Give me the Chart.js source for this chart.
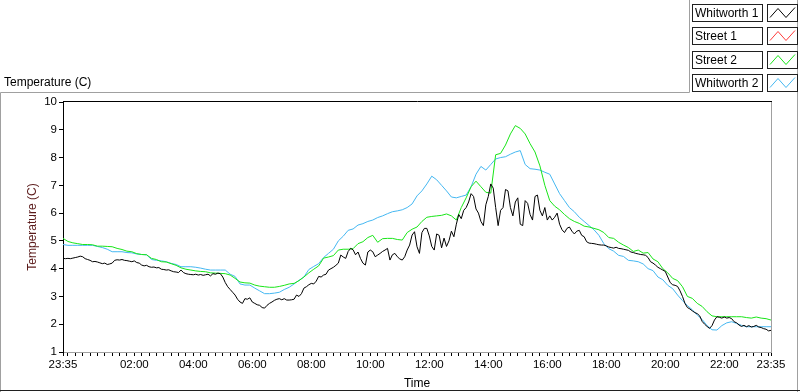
<!DOCTYPE html>
<html>
<head>
<meta charset="utf-8">
<script src="https://cdn.jsdelivr.net/npm/chart.js@4.4.1/dist/chart.umd.min.js"></script>
<style>
  html, body { margin: 0; padding: 0; background: #fff; }
</style>
</head>
<body>
<canvas id="temperatura-grafica" width="800" height="392"></canvas>
<script>
// minutes after 23:35, series sampled every 10 min (Street 2, Whitworth 2) and every 5 min (Whitworth 1)
const inicio = 23 * 60 + 35;
const series = ['Whitworth 1', 'Street 1', 'Street 2', 'Whitworth 2'];
const colores = ['#000000', '#ff3b3b', '#19e619', '#45b8f2'];

const street2 = [
  5.09, 4.98, 4.93, 4.9, 4.87, 4.87, 4.86, 4.81, 4.81, 4.8,
  4.79, 4.73, 4.69, 4.63, 4.61, 4.54, 4.51, 4.5, 4.37, 4.33,
  4.25, 4.24, 4.18, 4.12, 4.03, 3.98, 3.95, 3.92, 3.9, 3.89,
  3.85, 3.84, 3.83, 3.82, 3.77, 3.65, 3.52, 3.49, 3.48, 3.41,
  3.37, 3.35, 3.33, 3.33, 3.36, 3.4, 3.45, 3.47, 3.57, 3.7,
  3.85, 3.98, 4.1, 4.38, 4.42, 4.47, 4.67, 4.7, 4.7, 4.72,
  4.9, 4.97, 5.12, 5.2, 4.95, 5.08, 5.09, 5.09, 5.05, 5.03,
  5.3, 5.42, 5.5, 5.7, 5.85, 5.88, 5.9, 5.92, 5.97, 5.9,
  5.75, 6.2, 6.55, 6.95, 7.15, 6.95, 6.75, 6.72, 8.1, 8.15,
  8.45, 8.85, 9.15, 9.05, 8.85, 8.5, 8.2, 7.7, 7.0, 6.45,
  6.25, 6.12, 5.95, 5.8, 5.7, 5.63, 5.53, 5.5, 5.45, 5.4,
  5.3, 5.12, 5.09, 4.95, 4.85, 4.76, 4.62, 4.67, 4.56, 4.58,
  4.35, 4.25, 4.0, 3.85, 3.65, 3.57, 3.35, 3.0, 2.93, 2.75,
  2.64, 2.45, 2.3, 2.27, 2.27, 2.27, 2.27, 2.27, 2.27, 2.24,
  2.22, 2.26, 2.22, 2.2, 2.15
];

const whitworth2 = [
  4.87, 4.84, 4.84, 4.84, 4.84, 4.84, 4.84, 4.8, 4.76, 4.7,
  4.61, 4.61, 4.61, 4.58, 4.57, 4.53, 4.51, 4.5, 4.33, 4.3,
  4.28, 4.25, 4.19, 4.15, 4.07, 4.07, 4.07, 4.05, 4.02, 3.98,
  3.95, 3.95, 3.95, 3.95, 3.8, 3.72, 3.45, 3.41, 3.41, 3.3,
  3.2, 3.1, 3.1, 3.12, 3.15, 3.25, 3.33, 3.45, 3.58, 3.7,
  3.97, 4.08, 4.18, 4.4, 4.55, 4.7, 5.0, 5.17, 5.38, 5.43,
  5.57, 5.62, 5.7, 5.75, 5.84, 5.9, 5.98, 6.05, 6.08, 6.12,
  6.2, 6.33, 6.62, 6.8, 7.05, 7.33, 7.2, 7.0, 6.8, 6.58,
  6.55, 6.6, 6.65, 6.95, 7.4, 7.68, 7.55, 7.75, 7.95, 8.0,
  8.03, 8.12, 8.2, 8.25, 7.75, 7.6, 7.58, 7.55, 7.47, 7.4,
  7.05, 6.7, 6.45, 6.2, 6.05, 5.85, 5.7, 5.55, 5.4, 5.2,
  4.9, 4.72, 4.63, 4.48, 4.44, 4.3, 4.28, 4.25, 4.17, 4.0,
  3.93, 3.7, 3.6, 3.4, 3.28, 3.05, 2.85, 2.67, 2.52, 2.33,
  2.17, 1.95, 1.8, 1.79, 1.95, 2.05, 2.09, 2.03, 1.96, 1.91,
  1.91, 1.91, 1.91, 1.91, 1.91
];

const whitworth1 = [
  4.37, 4.36, 4.37, 4.36, 4.38, 4.4, 4.42, 4.45, 4.43, 4.36,
  4.33, 4.3, 4.25, 4.26, 4.24, 4.21, 4.18, 4.2, 4.15, 4.17,
  4.2, 4.3, 4.32, 4.31, 4.33, 4.3, 4.29, 4.27, 4.25, 4.28,
  4.22, 4.2, 4.13, 4.1, 4.12, 4.07, 4.05, 4.06, 4.03, 4.04,
  3.98, 3.97, 3.95, 3.96, 3.92, 3.89, 3.88, 3.86, 3.95, 3.86,
  3.82, 3.8, 3.79, 3.78, 3.8, 3.77, 3.79, 3.76, 3.78, 3.8,
  3.74, 3.82, 3.8, 3.84, 3.82, 3.7, 3.5, 3.35, 3.25, 3.15,
  3.05, 2.9, 2.8, 2.75, 2.92, 2.9, 2.95, 2.8, 2.75, 2.7,
  2.68, 2.6, 2.58, 2.68, 2.75, 2.8, 2.86, 2.9, 2.92, 2.88,
  2.92, 2.87, 2.87, 2.88, 2.9, 3.05, 3.0, 3.1, 3.3, 3.35,
  3.42, 3.47, 3.45, 3.55, 3.72, 3.7, 3.77, 3.8, 3.95, 4.0,
  4.05, 4.12, 4.2, 4.49, 4.42, 4.37, 4.62, 4.73, 4.68, 4.5,
  4.6, 4.37, 4.2, 4.13, 4.6, 4.67, 4.61, 4.43, 4.49, 4.55,
  4.62, 4.67, 4.73, 4.31, 4.5, 4.55, 4.43, 4.35, 4.31, 4.43,
  4.67, 4.85, 5.21, 5.33, 4.79, 4.55, 5.3, 5.45, 5.45, 5.18,
  4.8, 4.67, 5.25, 5.2, 4.75, 5.1, 4.8, 5.0, 5.35, 5.15,
  5.6, 5.95, 5.8, 6.1, 6.2, 6.4, 6.7, 6.6, 6.15, 6.0,
  5.7, 5.55, 6.3, 6.6, 7.05, 6.9, 6.2, 5.55, 6.1, 6.2,
  6.85, 6.8, 6.2, 5.9, 6.4, 6.55, 5.6, 5.55, 6.45, 6.35,
  5.95, 5.75, 6.6, 6.65, 6.1, 5.9, 6.2, 5.75, 5.9, 5.75,
  5.85, 6.0, 5.6, 5.4, 5.3, 5.45, 5.5, 5.35, 5.25, 5.35,
  5.38, 5.2, 5.15, 4.97, 4.92, 4.91, 4.9, 4.88, 4.86, 4.85,
  4.85, 4.82, 4.78, 4.76, 4.74, 4.77, 4.73, 4.72, 4.7, 4.68,
  4.66, 4.6, 4.58, 4.55, 4.53, 4.51, 4.5, 4.48, 4.4, 4.25,
  4.2, 4.13, 4.05, 4.0, 3.95, 3.9, 3.7, 3.5, 3.42, 3.4,
  3.36, 3.2, 3.0, 2.75, 2.6, 2.55, 2.48, 2.42, 2.38, 2.3,
  2.1, 2.0, 1.92, 1.85, 1.95, 2.15, 2.27, 2.25, 2.22, 2.26,
  2.22, 2.24, 2.2, 2.09, 2.05, 1.97, 1.92, 1.96, 1.91, 1.95,
  1.9, 1.92, 1.96, 1.9, 1.88, 1.84, 1.82, 1.76, 1.78
];

const street1 = [];

// tick positions (minutes after 23:35): every quarter hour, labels every 2 h
const ticksX = [0];
for (let m = 10; m < 1440; m += 15) ticksX.push(m);
ticksX.push(1440);
const etiquetasX = [0, 145, 265, 385, 505, 625, 745, 865, 985, 1105, 1225, 1345, 1440];

function hora(m) {
  const t = (inicio + m) % 1440;
  const h = Math.floor(t / 60), mm = t % 60;
  return String(h).padStart(2, '0') + ':' + String(mm).padStart(2, '0');
}

function puntos(valores, paso) {
  return valores.map((v, i) => ({ x: i * paso, y: v }));
}

const fuente = 'Liberation Sans, Arial, sans-serif';

const marco = {
  id: 'marco',
  beforeDraw(chart) {
    const ctx = chart.ctx;
    ctx.save();
    ctx.fillStyle = '#fff';
    ctx.fillRect(0, 0, chart.width, chart.height);
    ctx.restore();
  },
  afterDraw(chart) {
    const ctx = chart.ctx;
    const a = chart.chartArea;
    ctx.save();
    // plot frame (top + right)
    ctx.lineWidth = 1;
    ctx.strokeStyle = '#000';
    ctx.beginPath();
    ctx.moveTo(a.left, a.top - 0.5);
    ctx.lineTo(a.right + 1, a.top - 0.5);
    ctx.stroke();
    ctx.strokeStyle = '#a0a0a0';
    ctx.beginPath();
    ctx.moveTo(a.right + 0.5, a.top);
    ctx.lineTo(a.right + 0.5, a.bottom + 1);
    ctx.stroke();

    // outer panel
    ctx.strokeStyle = '#a0a0a0';
    ctx.beginPath();
    ctx.moveTo(0.5, 392);
    ctx.lineTo(0.5, 92.5);
    ctx.lineTo(689.5, 92.5);
    ctx.lineTo(689.5, 0);
    ctx.stroke();
    ctx.beginPath();
    ctx.moveTo(797.5, 0);
    ctx.lineTo(797.5, 392);
    ctx.stroke();
    ctx.strokeStyle = '#202020';
    ctx.beginPath();
    ctx.moveTo(0, 390.5);
    ctx.lineTo(800, 390.5);
    ctx.stroke();

    // plot name
    ctx.fillStyle = '#000';
    ctx.font = '12px ' + fuente;
    ctx.textBaseline = 'alphabetic';
    ctx.fillText('Temperature (C)', 4, 86);

    // legend
    chart.data.datasets.forEach((ds, i) => {
      const y = 3.5 + i * 23.5;
      const yy = Math.round(y) + 0.5;
      ctx.fillStyle = '#fff';
      ctx.fillRect(692, yy, 70, 17);
      ctx.strokeStyle = '#202020';
      ctx.strokeRect(692.5, yy, 70, 17);
      ctx.fillStyle = '#000';
      ctx.textBaseline = 'middle';
      ctx.fillText(ds.label, 695, yy + 9);
      ctx.fillStyle = '#fff';
      ctx.fillRect(767, yy, 30, 17);
      ctx.strokeStyle = '#202020';
      ctx.strokeRect(767.5, yy, 30, 17);
      ctx.strokeStyle = ds.borderColor;
      ctx.beginPath();
      ctx.moveTo(770, yy + 13);
      ctx.lineTo(778, yy + 4);
      ctx.lineTo(786, yy + 13);
      ctx.lineTo(795, yy + 3);
      ctx.stroke();
    });
    ctx.restore();
  }
};

new Chart(document.getElementById('temperatura-grafica'), {
  type: 'line',
  data: {
    datasets: [
      { label: series[0], data: puntos(whitworth1, 5), borderColor: colores[0] },
      { label: series[1], data: puntos(street1, 10), borderColor: colores[1] },
      { label: series[2], data: puntos(street2, 10), borderColor: colores[2] },
      { label: series[3], data: puntos(whitworth2, 10), borderColor: colores[3] }
    ].map(d => Object.assign(d, { borderWidth: 1, pointRadius: 0, tension: 0, fill: false }))
  },
  options: {
    responsive: false,
    animation: false,
    events: [],
    layout: { padding: { top: 102, right: 29, left: 0, bottom: 0 } },
    plugins: { legend: { display: false }, tooltip: { enabled: false } },
    scales: {
      x: {
        type: 'linear',
        min: 0,
        max: 1440,
        afterFit: s => { s.height = 40; },
        afterBuildTicks: s => { s.ticks = ticksX.map(v => ({ value: v })); },
        grid: { drawOnChartArea: false, tickLength: 4, tickColor: '#000' },
        border: { color: '#a0a0a0' },
        ticks: {
          autoSkip: false,
          maxRotation: 0,
          padding: 2,
          color: '#000',
          font: { family: fuente, size: 11.5 },
          callback: v => etiquetasX.includes(v) ? hora(v) : ''
        },
        title: { display: true, text: 'Time', color: '#000', padding: { top: 0, bottom: 1 }, font: { family: fuente, size: 12 } }
      },
      y: {
        min: 1,
        max: 10,
        afterFit: s => { s.width = 63; },
        grid: { drawOnChartArea: false, tickLength: 4, tickColor: '#000' },
        border: { color: '#000' },
        ticks: { stepSize: 1, padding: 2, color: '#000', font: { family: fuente, size: 11.5 } },
        title: { display: true, text: 'Temperature (C)', color: '#5a1a1a', padding: { top: 25, bottom: 0 }, font: { family: fuente, size: 12 } }
      }
    }
  },
  plugins: [marco]
});
</script>
</body>
</html>
